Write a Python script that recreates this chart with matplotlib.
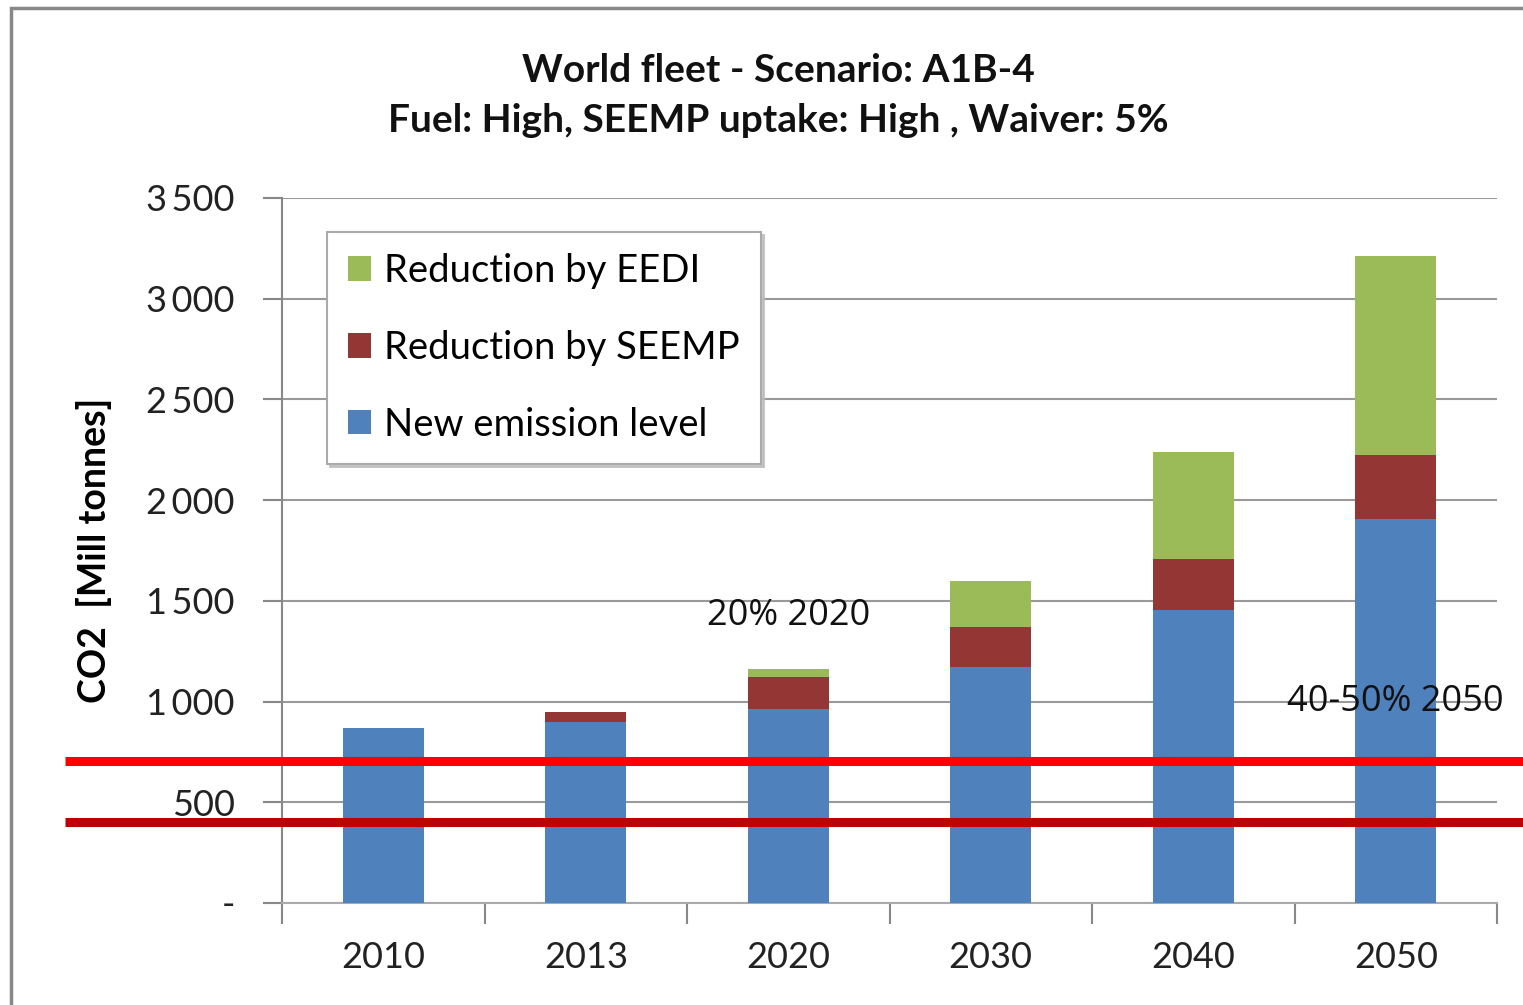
import numpy as np
import matplotlib.pyplot as plt
from matplotlib.patches import Rectangle
from matplotlib.transforms import blended_transform_factory

years = ['2010', '2013', '2020', '2030', '2040', '2050']
new_level = [870, 898, 962, 1172, 1455, 1907]
seemp = [0, 50, 160, 198, 253, 317]
eedi = [0, 0, 40, 229, 531, 988]
red_levels = [705, 402]

blue = '#4F81BD'
brick = '#943634'
green = '#9BBB59'

plt.rcParams['font.family'] = ['Lato', 'DejaVu Sans']

W, H = 1523, 1005
fig = plt.figure(figsize=(W / 100, H / 100), dpi=100)
ax = fig.add_axes([282 / W, 1 - 903 / H, (1497 - 282) / W, (903 - 198) / H])

x = np.arange(len(years))
bw = 0.4
ax.bar(x, new_level, bw, color=blue, label='New emission level', zorder=3)
ax.bar(x, seemp, bw, bottom=new_level, color=brick, label='Reduction by SEEMP', zorder=3)
bottom2 = np.array(new_level) + np.array(seemp)
ax.bar(x, eedi, bw, bottom=bottom2, color=green, label='Reduction by EEDI', zorder=3)

ax.set_xlim(-0.5, len(years) - 0.5)
ax.set_ylim(0, 3500)
yt = np.arange(0, 3501, 500)
ax.set_yticks(yt)
ax.set_yticklabels(['-'] + ['{:,}'.format(v).replace(',', '\u2009') for v in yt[1:]],
                   fontsize=26, color='#222222')
ax.set_xticks(x)
ax.set_xticklabels(years, fontsize=26, color='#222222')
ax.set_xticks(np.arange(-0.5, len(years)), minor=True)
ax.tick_params(axis='x', which='major', length=0, pad=27)
ax.tick_params(axis='x', which='minor', length=15, color='#888888', width=1.5)
ax.tick_params(axis='y', length=14, color='#888888', width=1.5, pad=20)
ax.grid(axis='y', color='#999999', linewidth=1.5, zorder=0)
for s in ['top', 'right']:
    ax.spines[s].set_visible(False)
ax.spines['left'].set_color('#888888')
ax.spines['bottom'].set_color('#aaaaaa')
ax.spines['left'].set_linewidth(1.5)
ax.spines['bottom'].set_linewidth(1.5)

ax.set_ylabel('CO2  [Mill tonnes]', fontsize=27, fontweight='bold')
ax.yaxis.set_label_coords(-0.14, 0.5)

fig.text(778 / W, 1 - 70 / H, 'World fleet - Scenario: A1B-4', ha='center', va='center',
         fontsize=28, fontweight='bold', color='#111111')
fig.text(778 / W, 1 - 121 / H, 'Fuel: High, SEEMP uptake: High , Waiver: 5%', ha='center',
         va='center', fontsize=28, fontweight='bold', color='#111111')

h, l = ax.get_legend_handles_labels()
leg = ax.legend(h[::-1], l[::-1], loc='upper left', bbox_to_anchor=(327 / W, 1 - 232 / H),
                bbox_transform=fig.transFigure, fontsize=27.5, frameon=True, fancybox=False,
                shadow={'color': '#bbbbbb', 'alpha': 0.8}, handlelength=0.6, handleheight=0.6,
                handletextpad=0.35, labelspacing=1.07, borderpad=0.55, borderaxespad=0)
leg.get_frame().set_edgecolor('#aaaaaa')
leg.get_frame().set_linewidth(1.5)
leg.set_zorder(5)

ax.text(2.0, 1425, '20% 2020', fontsize=26, color='#111111', ha='center', va='center',
        family=['Open Sans', 'DejaVu Sans'], zorder=6)
ax.text(5.0, 1000, '40-50% 2050', fontsize=26, color='#111111', ha='center', va='center',
        family=['Open Sans', 'DejaVu Sans'], zorder=6, clip_on=False)

tr = blended_transform_factory(fig.transFigure, ax.transData)
for lv, c in zip(red_levels, ['#FF0000', '#C00000']):
    ax.plot([65 / W, 1.0], [lv, lv], color=c, linewidth=6.5, transform=tr,
            clip_on=False, zorder=7, solid_capstyle='butt')

fig.patches.append(Rectangle((11 / W, -0.1), 1.2, 1 - 8 / H + 0.1, transform=fig.transFigure,
                             fill=False, edgecolor='#888888', linewidth=2.5))

fig.savefig('out.png', dpi=100)
